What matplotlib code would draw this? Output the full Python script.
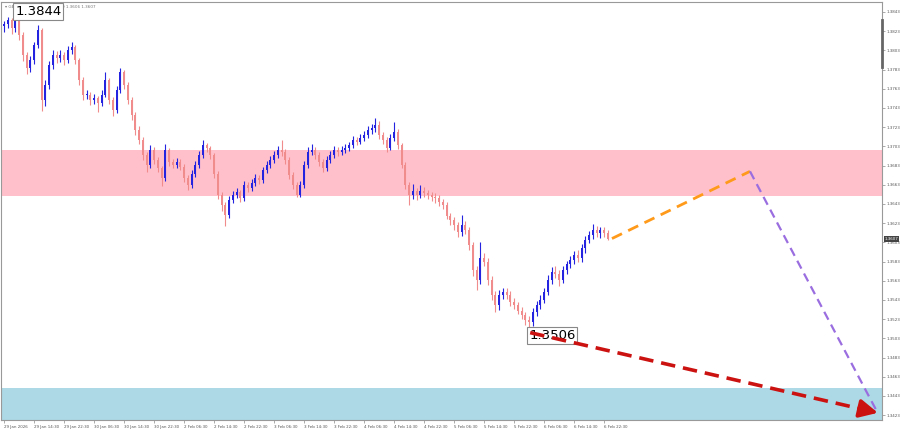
import numpy as np
import matplotlib
matplotlib.use("Agg")
import matplotlib.pyplot as plt
from matplotlib.lines import Line2D

# GBPUSD H1, 29 Jan - 6 Feb
closes = [1.3830, 1.3835, 1.3826, 1.3837, 1.3819, 1.3798, 1.3785, 1.3793, 1.3809, 1.3824,
          1.3751, 1.3767, 1.3788, 1.3798, 1.3795, 1.3798, 1.3793, 1.3803, 1.3807, 1.3793,
          1.3772, 1.3757, 1.3757, 1.3751, 1.3753, 1.3748, 1.3757, 1.3772, 1.3751, 1.3741,
          1.3762, 1.3780, 1.3767, 1.3751, 1.3736, 1.3720, 1.3710, 1.3694, 1.3684, 1.3699,
          1.3689, 1.3680, 1.3670, 1.3699, 1.3687, 1.3684, 1.3687, 1.3682, 1.3670, 1.3663,
          1.3674, 1.3684, 1.3694, 1.3704, 1.3701, 1.3694, 1.3674, 1.3652, 1.3642, 1.3632,
          1.3647, 1.3652, 1.3655, 1.3649, 1.3663, 1.3660, 1.3665, 1.3670, 1.3668, 1.3678,
          1.3684, 1.3689, 1.3694, 1.3699, 1.3697, 1.3689, 1.3673, 1.3663, 1.3652, 1.3663,
          1.3684, 1.3697, 1.3699, 1.3694, 1.3687, 1.3680, 1.3689, 1.3694, 1.3699, 1.3697,
          1.3699, 1.3701, 1.3704, 1.3710, 1.3708, 1.3712, 1.3715, 1.3720, 1.3722, 1.3725,
          1.3715, 1.3710, 1.3701, 1.3712, 1.3718, 1.3704, 1.3684, 1.3663, 1.3652, 1.3657,
          1.3652, 1.3657, 1.3654, 1.3652, 1.3650, 1.3649, 1.3645, 1.3642, 1.3631, 1.3626,
          1.3621, 1.3614, 1.3621, 1.3616, 1.3600, 1.3574, 1.3564, 1.3587, 1.3583, 1.3564,
          1.3548, 1.3538, 1.3548, 1.3551, 1.3548, 1.3541, 1.3538, 1.3532, 1.3527, 1.3522,
          1.3520, 1.3530, 1.3538, 1.3543, 1.3551, 1.3564, 1.3572, 1.3570, 1.3564, 1.3574,
          1.3580, 1.3585, 1.3590, 1.3587, 1.3597, 1.3606, 1.3611, 1.3616, 1.3613, 1.3616,
          1.3613, 1.3607]
highs = [1.3834, 1.3838, 1.3837, 1.3844, 1.3840, 1.3822, 1.3801, 1.3797, 1.3812, 1.3829,
         1.3826, 1.3772, 1.3792, 1.3803, 1.3802, 1.3803, 1.3801, 1.3808, 1.3812, 1.3809,
         1.3795, 1.3775, 1.3762, 1.3760, 1.3758, 1.3756, 1.3762, 1.3780, 1.3774, 1.3754,
         1.3766, 1.3785, 1.3783, 1.3770, 1.3754, 1.3739, 1.3724, 1.3713, 1.3697, 1.3704,
         1.3702, 1.3692, 1.3683, 1.3705, 1.3701, 1.3690, 1.3691, 1.3690, 1.3685, 1.3673,
         1.3678, 1.3688, 1.3698, 1.3710, 1.3707, 1.3703, 1.3696, 1.3677, 1.3655, 1.3645,
         1.3651, 1.3657, 1.3660, 1.3658, 1.3667, 1.3666, 1.3669, 1.3674, 1.3673, 1.3682,
         1.3688, 1.3693, 1.3698, 1.3703, 1.3710, 1.3700, 1.3692, 1.3676, 1.3666, 1.3667,
         1.3688, 1.3702, 1.3706, 1.3702, 1.3697, 1.3690, 1.3693, 1.3698, 1.3703, 1.3702,
         1.3703, 1.3705, 1.3708, 1.3714, 1.3713, 1.3716, 1.3719, 1.3724, 1.3726, 1.3733,
         1.3729, 1.3718, 1.3713, 1.3716, 1.3728, 1.3721, 1.3707, 1.3687, 1.3666, 1.3664,
         1.3660, 1.3663, 1.3661, 1.3658, 1.3656, 1.3654, 1.3652, 1.3648, 1.3645, 1.3634,
         1.3629, 1.3624, 1.3632, 1.3625, 1.3619, 1.3603, 1.3578, 1.3603, 1.3592, 1.3587,
         1.3568, 1.3552, 1.3553, 1.3556, 1.3555, 1.3552, 1.3545, 1.3541, 1.3536, 1.3531,
         1.3526, 1.3535, 1.3542, 1.3548, 1.3556, 1.3569, 1.3577, 1.3578, 1.3574, 1.3578,
         1.3584, 1.3589, 1.3594, 1.3595, 1.3601, 1.3610, 1.3615, 1.3622, 1.3620, 1.3619,
         1.3619, 1.3616]
lows = [1.3822, 1.3826, 1.3820, 1.3822, 1.3814, 1.3792, 1.3778, 1.3781, 1.3789, 1.3805,
        1.3740, 1.3745, 1.3763, 1.3784, 1.3790, 1.3791, 1.3788, 1.3790, 1.3799, 1.3789,
        1.3767, 1.3751, 1.3752, 1.3746, 1.3747, 1.3739, 1.3745, 1.3754, 1.3747, 1.3735,
        1.3738, 1.3759, 1.3763, 1.3747, 1.3731, 1.3715, 1.3705, 1.3689, 1.3676, 1.3681,
        1.3685, 1.3676, 1.3662, 1.3667, 1.3683, 1.3680, 1.3681, 1.3678, 1.3666, 1.3658,
        1.3660, 1.3671, 1.3681, 1.3691, 1.3697, 1.3690, 1.3670, 1.3648, 1.3636, 1.3620,
        1.3628, 1.3644, 1.3649, 1.3645, 1.3646, 1.3656, 1.3657, 1.3662, 1.3664, 1.3665,
        1.3675, 1.3681, 1.3686, 1.3691, 1.3693, 1.3685, 1.3669, 1.3659, 1.3650, 1.3650,
        1.3660, 1.3680, 1.3694, 1.3690, 1.3683, 1.3676, 1.3677, 1.3686, 1.3691, 1.3693,
        1.3694, 1.3696, 1.3698, 1.3701, 1.3704, 1.3705, 1.3709, 1.3712, 1.3716, 1.3718,
        1.3711, 1.3706, 1.3697, 1.3699, 1.3709, 1.3700, 1.3680, 1.3659, 1.3642, 1.3648,
        1.3647, 1.3649, 1.3650, 1.3648, 1.3646, 1.3644, 1.3641, 1.3638, 1.3627, 1.3621,
        1.3616, 1.3609, 1.3610, 1.3612, 1.3595, 1.3568, 1.3553, 1.3560, 1.3578, 1.3559,
        1.3543, 1.3530, 1.3533, 1.3544, 1.3544, 1.3537, 1.3534, 1.3528, 1.3523, 1.3517,
        1.3506, 1.3516, 1.3526, 1.3534, 1.3540, 1.3548, 1.3560, 1.3566, 1.3558, 1.3561,
        1.3570, 1.3576, 1.3581, 1.3583, 1.3583, 1.3592, 1.3602, 1.3607, 1.3609, 1.3608,
        1.3609, 1.3605]
opens = [1.3828] + closes[:-1]

time_labels = ["29 Jan 2026", "29 Jan 14:30", "29 Jan 22:30", "30 Jan 06:30", "30 Jan 14:30",
               "30 Jan 22:30", "2 Feb 06:30", "2 Feb 14:30", "2 Feb 22:30", "3 Feb 06:30",
               "3 Feb 14:30", "3 Feb 22:30", "4 Feb 06:30", "4 Feb 14:30", "4 Feb 22:30",
               "5 Feb 06:30", "5 Feb 14:30", "5 Feb 22:30", "6 Feb 06:30", "6 Feb 14:30",
               "6 Feb 22:30"]
price_ticks = [1.3843, 1.3823, 1.3803, 1.3783, 1.3763, 1.3743, 1.3723, 1.3703, 1.3683,
               1.3663, 1.3643, 1.3623, 1.3603, 1.3583, 1.3563, 1.3543, 1.3523, 1.3503,
               1.3483, 1.3463, 1.3443, 1.3423]

resistance_zone = (1.3651, 1.3699)
support_zone = (1.3400, 1.3451)

# forecast path (bar index, price)
orange_x = [162.1, 198.9]
orange_y = [1.3607, 1.3677]
purple_x = [198.9, 232.6]
purple_y = [1.3677, 1.3428]
red_x = [140.3, 233.0]
red_y = [1.3509, 1.34255]

swing_high = (3, 1.3844)
swing_low = (140, 1.3506)
last_price = 1.3607

fig = plt.figure(figsize=(9, 4.3), dpi=100)
ax = fig.add_axes([1 / 900, 10 / 430, 881 / 900, 418 / 430])

ax.axhspan(*resistance_zone, color="#ffc0cb", lw=0, zorder=0)
ax.axhspan(*support_zone, color="#add8e6", lw=0, zorder=0)

x = np.arange(len(closes))
o = np.array(opens)
c = np.array(closes)
up = c >= o
col = np.where(up, "#2424e0", "#f08c8c")
ax.vlines(x, lows, highs, colors=col, lw=0.8, zorder=2)
body = np.maximum(np.abs(c - o), 0.00008)
ax.bar(x, body, bottom=np.minimum(o, c), width=0.5, color=col, lw=0, zorder=2)

ax.plot(orange_x, orange_y, color="#ff9a1a", lw=2, dashes=(4, 2.5), zorder=3)
ax.plot(purple_x, purple_y, color="#9b6ee0", lw=1.6, dashes=(4, 2.5), zorder=3)
ax.plot(red_x, red_y, color="#cc1111", lw=2.6, dashes=(4, 2.2), zorder=6)
ax.annotate("", xy=(red_x[1], red_y[1]),
            xytext=(red_x[1] - 5, red_y[1] + 0.00045),
            arrowprops=dict(arrowstyle="-|>,head_length=1.1,head_width=0.55",
                            color="#cc1111", lw=2.6, shrinkA=0, shrinkB=0),
            zorder=6)

box = dict(boxstyle="square,pad=0.15", fc="white", ec="#888888", lw=0.8)
ax.text(swing_high[0], swing_high[1], "1.3844", fontsize=9.5, ha="left", va="center",
        bbox=box, zorder=5)
ax.text(swing_low[0], swing_low[1], "1.3506", fontsize=9.5, ha="left", va="center",
        bbox=box, zorder=5)

ax.text(0.004, 0.994, "\u25be GBPUSD,H1  1.3608 1.3610 1.3606 1.3607", transform=ax.transAxes,
        fontsize=3.0, color="#777777", ha="left", va="top")

ax.set_xlim(-0.8, 234.1)
ax.set_ylim(1.34180, 1.38534)

ax.set_xticks(np.arange(0, 8 * len(time_labels), 8))
ax.set_xticklabels(time_labels, fontsize=2.9, color="#555555", ha="left")
ax.tick_params(axis="x", length=2, width=0.5, color="#888888", pad=1.5)

ax.yaxis.tick_right()
ax.set_yticks(price_ticks)
ax.set_yticklabels([f"{p:.4f}" for p in price_ticks], fontsize=2.9, color="#555555")
ax.tick_params(axis="y", length=2, width=0.5, color="#888888", pad=1.5)

for s in ax.spines.values():
    s.set_color("#999999")
    s.set_linewidth(0.8)

# current price tag
ax.text(1.003, last_price, "1.3607", transform=ax.get_yaxis_transform(), fontsize=2.9,
        color="white", ha="left", va="center",
        bbox=dict(boxstyle="square,pad=0.25", fc="#444444", ec="none"), zorder=6)

fig.add_artist(Line2D([882 / 900, 882 / 900], [1 - 20 / 430, 1 - 67 / 430],
                      color="#666666", lw=2))

fig.savefig("out.png", dpi=100, facecolor="white")
